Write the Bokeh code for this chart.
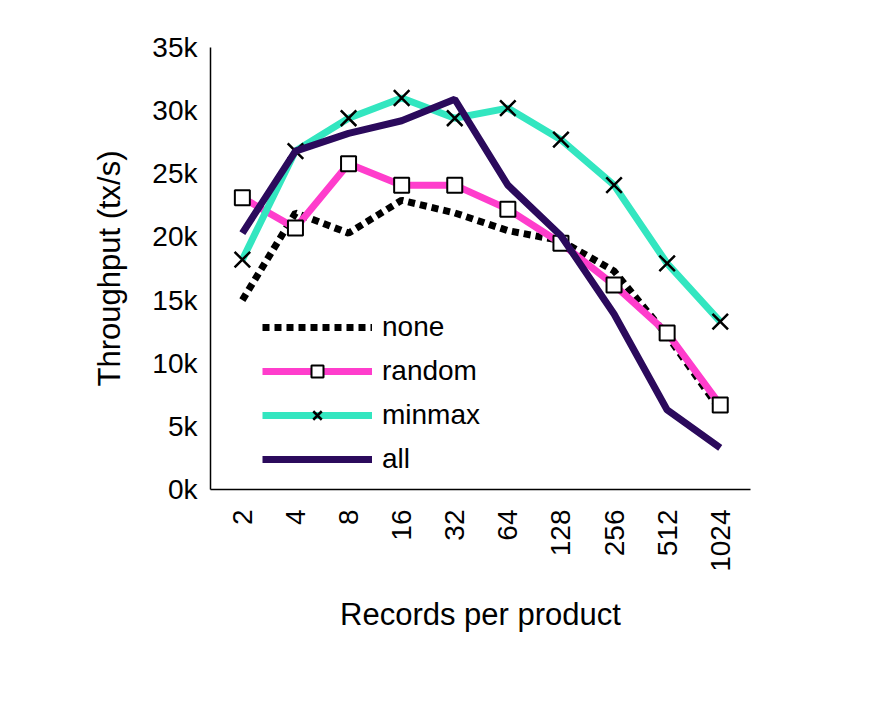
from bokeh.plotting import figure
from bokeh.models import FixedTicker, Legend, LegendItem, Range1d
from bokeh.embed import file_html
from bokeh.resources import INLINE
import math

records = ["2", "4", "8", "16", "32", "64", "128", "256", "512", "1024"]
none_tx = [15000, 21900, 20300, 22900, 21900, 20500, 19700, 17300, 12200, 6300]
random_tx = [23100, 20700, 25800, 24100, 24100, 22200, 19500, 16200, 12400, 6700]
minmax_tx = [18200, 26800, 29400, 31000, 29400, 30200, 27700, 24100, 17900, 13300]
all_tx = [20300, 26800, 28200, 29200, 30900, 24100, 20100, 13900, 6300, 3300]
y_ticks = [0, 5000, 10000, 15000, 20000, 25000, 30000, 35000]

xs = list(range(len(records)))
FONT = "Liberation Sans"

p = figure(width=870, height=700, output_backend="svg", toolbar_location=None,
           x_range=Range1d(-0.6, 9.57), y_range=Range1d(0, 35000),
           min_border_left=210, min_border_right=120, min_border_top=47,
           min_border_bottom=211)
p.outline_line_color = None
p.grid.visible = False

p.xaxis.ticker = FixedTicker(ticks=xs)
p.xaxis.major_label_overrides = {i: r for i, r in enumerate(records)}
p.xaxis.major_label_orientation = math.pi / 2
p.xaxis.minor_tick_line_color = None
p.yaxis.ticker = FixedTicker(ticks=y_ticks)
p.yaxis.major_label_overrides = {v: f"{v // 1000}k" for v in y_ticks}
p.yaxis.minor_tick_line_color = None
p.yaxis.major_tick_out = 8
p.yaxis.major_tick_in = 0
for ax in (p.xaxis, p.yaxis):
    ax.axis_line_color = "black"
    ax.axis_line_width = 1.5
    ax.major_tick_line_color = "black" if ax is p.yaxis else None
    ax.major_label_text_font = FONT
    ax.major_label_text_font_size = "28px"
    ax.major_label_text_color = "black"
    ax.axis_label_text_font = FONT
    ax.axis_label_text_font_size = "31px"
    ax.axis_label_text_font_style = "normal"
    ax.axis_label_text_color = "black"
    ax.axis_label_standoff = 22
p.xaxis.major_label_standoff = 14
p.xaxis.axis_label = "Records per product"
p.yaxis.axis_label = "Throughput (tx/s)"

r_none = p.line(xs, none_tx, line_color="black", line_width=7, line_dash="7 5")
r_rand = p.line(xs, random_tx, line_color="#ff3dcc", line_width=7)
r_rand_m = p.scatter(xs, random_tx, marker="square", size=15, fill_color="white",
                     line_color="black", line_width=2)
r_mm = p.line(xs, minmax_tx, line_color="#33e6c0", line_width=7)
r_mm_m = p.scatter(xs, minmax_tx, marker="x", size=22, line_color="black", line_width=2.5)
r_all = p.line(xs, all_tx, line_color="#2b0a5c", line_width=7)

legend = Legend(items=[
    LegendItem(label="none", renderers=[r_none]),
    LegendItem(label="random", renderers=[r_rand, r_rand_m]),
    LegendItem(label="minmax", renderers=[r_mm, r_mm_m]),
    LegendItem(label="all", renderers=[r_all]),
], location=(52, 14), glyph_width=110, glyph_height=30, label_text_font=FONT,
    label_text_font_size="28px", label_text_color="black", border_line_color=None,
    background_fill_alpha=0, spacing=12, label_standoff=10)
p.add_layout(legend)

open("out.html", "w").write(file_html(p, INLINE))
